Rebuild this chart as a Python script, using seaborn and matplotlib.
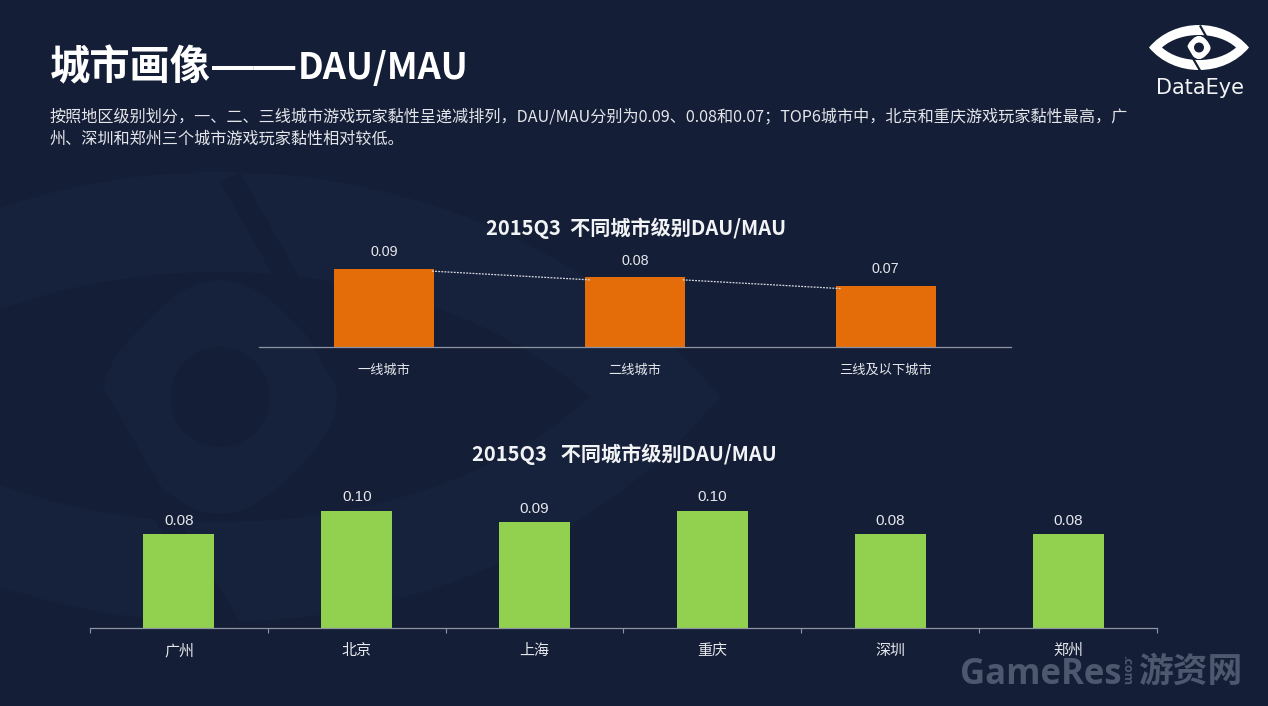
import matplotlib
matplotlib.use('Agg')
import matplotlib.pyplot as plt
import seaborn as sns
from matplotlib.patches import Circle, FancyBboxPatch, PathPatch
from matplotlib.path import Path
from matplotlib.transforms import Affine2D

title_head = '城市画像'
title_dash = '——'
title_tail = 'DAU/MAU'
intro_1 = '按照地区级别划分，一、二、三线城市游戏玩家黏性呈递减排列，DAU/MAU分别为0.09、0.08和0.07；TOP6城市中，北京和重庆游戏玩家黏性最高，广'
intro_2 = '州、深圳和郑州三个城市游戏玩家黏性相对较低。'

tier_title = '2015Q3  不同城市级别DAU/MAU'
tier_names = ['一线城市', '二线城市', '三线及以下城市']
tier_values = [0.09, 0.08, 0.07]

city_title = '2015Q3   不同城市级别DAU/MAU'
city_names = ['广州', '北京', '上海', '重庆', '深圳', '郑州']
city_values = [0.08, 0.10, 0.09, 0.10, 0.08, 0.08]

BG = '#141e37'
FAINT = '#16213b'
W, H = 1268, 706
FONTS = ['Noto Sans CJK SC', 'DejaVu Sans']
LABEL_FONTS = ['Liberation Sans', 'Noto Sans CJK SC']


def px_axes(fig, left, top, right, bottom):
    # axes box given in picture pixels, y going down
    return fig.add_axes([left / W, 1 - bottom / H, (right - left) / W, (bottom - top) / H])


def eye(x, y, hw, hh):
    c = hh / 0.75
    verts = [(x - hw, y), (x - hw / 2, y - c), (x + hw / 2, y - c), (x + hw, y),
             (x + hw / 2, y + c), (x - hw / 2, y + c), (x - hw, y), (x - hw, y)]
    codes = [Path.MOVETO, Path.CURVE4, Path.CURVE4, Path.CURVE4,
             Path.CURVE4, Path.CURVE4, Path.CURVE4, Path.CLOSEPOLY]
    return Path(verts, codes)


def draw_logo(ax, x, y, s, fg, bg):
    ax.add_patch(PathPatch(eye(x, y, 50 * s, 22.5 * s), fc=fg, ec='none'))
    ax.add_patch(PathPatch(eye(x, y, 37 * s, 12.5 * s), fc=bg, ec='none'))
    rot = Affine2D().rotate_deg_around(x, y, 45) + ax.transData
    r = 10.5 * s
    ax.add_patch(FancyBboxPatch((x - r, y - r), 2 * r, 2 * r, boxstyle=f'round,pad=0,rounding_size={r * 0.85}',
                                fc=fg, ec='none', transform=rot))
    ax.add_patch(Circle((x, y), 5 * s, fc=bg, ec='none'))
    lw = 2.2 * s * 0.72
    ax.plot([x + 1 * s, x + 14 * s], [y - 22 * s, y + 1 * s], color=bg, lw=lw, solid_capstyle='butt')
    ax.plot([x - 13 * s, x + 1 * s], [y - 1 * s, y + 23 * s], color=bg, lw=lw, solid_capstyle='butt')


def bar_panel(ax, names, values, color, ymax, tick_size, label_size, label_pad):
    sns.barplot(x=names, y=values, color=color, saturation=1, width=0.4, linewidth=0, edgecolor='none', ax=ax)
    ax.set_xlim(-0.5, len(names) - 0.5)
    ax.set_ylim(0, ymax)
    ax.patch.set_alpha(0)
    ax.grid(False)
    ax.set_yticks([])
    sns.despine(ax=ax, left=True)
    ax.spines['bottom'].set_color('#8d95a3')
    ax.spines['bottom'].set_linewidth(0.9)
    ax.tick_params(axis='x', length=0, pad=19.5, labelsize=tick_size, labelcolor='#e6e8ec')
    # same baseline for every label, top alignment jumps with the glyph height
    for lab in ax.get_xticklabels():
        lab.set_verticalalignment('baseline')
    ax.bar_label(ax.containers[0], fmt='%.2f', padding=label_pad, color='#e6e8ec', fontsize=label_size,
                 family=LABEL_FONTS)


sns.set_theme(style='dark')
plt.rcParams['font.family'] = FONTS
plt.rcParams['axes.unicode_minus'] = False

fig = plt.figure(figsize=(W / 100, H / 100), dpi=100, facecolor=BG)

back = fig.add_axes([0, 0, 1, 1])
back.set_xlim(0, W)
back.set_ylim(H, 0)
back.axis('off')
back.set_facecolor(BG)
draw_logo(back, 220, 397, 10, FAINT, BG)
draw_logo(back, 1199, 47.5, 1, 'white', BG)
back.text(1200, 88, 'DataEye', color='#f2f3f5', fontsize=15, ha='center', va='center', family='DejaVu Sans')

back.text(50, 68, title_head, color='white', fontsize=29, fontweight='bold', va='center')
back.text(212, 68, title_dash, color='white', fontsize=30, fontweight='bold', va='center', family='Liberation Sans')
back.text(298, 68, title_tail, color='white', fontsize=26, fontweight='bold', va='center')
back.text(50, 117, intro_1, color='#e4e6ea', fontsize=11.6, va='center')
back.text(50, 139, intro_2, color='#e4e6ea', fontsize=11.6, va='center')
back.text(636, 228, tier_title, color='#f2f3f5', fontsize=14.5, fontweight='bold', ha='center', va='center')
back.text(624, 454, city_title, color='#f2f3f5', fontsize=14.5, fontweight='bold', ha='center', va='center')

back.text(1041, 675, 'GameRes', color='#4d576e', fontsize=25, fontweight='bold', ha='center', va='center',
          family='Open Sans')
back.text(1127, 670, '.com', color='#4d576e', fontsize=9, fontweight='bold', rotation=-90, ha='center', va='center',
          family='Open Sans')
back.text(1190, 671, '游资网', color='#4d576e', fontsize=25, fontweight='bold', ha='center', va='center')

# upper panel, 872 px per unit
ax1 = px_axes(fig, 259, 247, 1011, 347)
bar_panel(ax1, tier_names, tier_values, '#e46d0a', 100 / 872, 9.5, 10.3, 7)
for i in range(len(tier_values) - 1):
    ax1.plot([i + 0.19, i + 0.82], [tier_values[i] - 0.003, tier_values[i + 1] - 0.003],
             color='#d8dbe0', lw=0.9, ls=(0, (1.5, 1)), zorder=5)

# lower panel, 1175 px per unit
ax2 = px_axes(fig, 90, 488, 1157, 628)
bar_panel(ax2, city_names, city_values, '#92d050', 140 / 1175, 10.8, 11, 4.5)
ax2.set_xticks([i - 0.5 for i in range(len(city_names) + 1)], minor=True)
ax2.tick_params(axis='x', which='minor', bottom=True, length=3.5, width=0.8, color='#8d95a3')

fig.savefig('out.png', dpi=100, facecolor=BG)
